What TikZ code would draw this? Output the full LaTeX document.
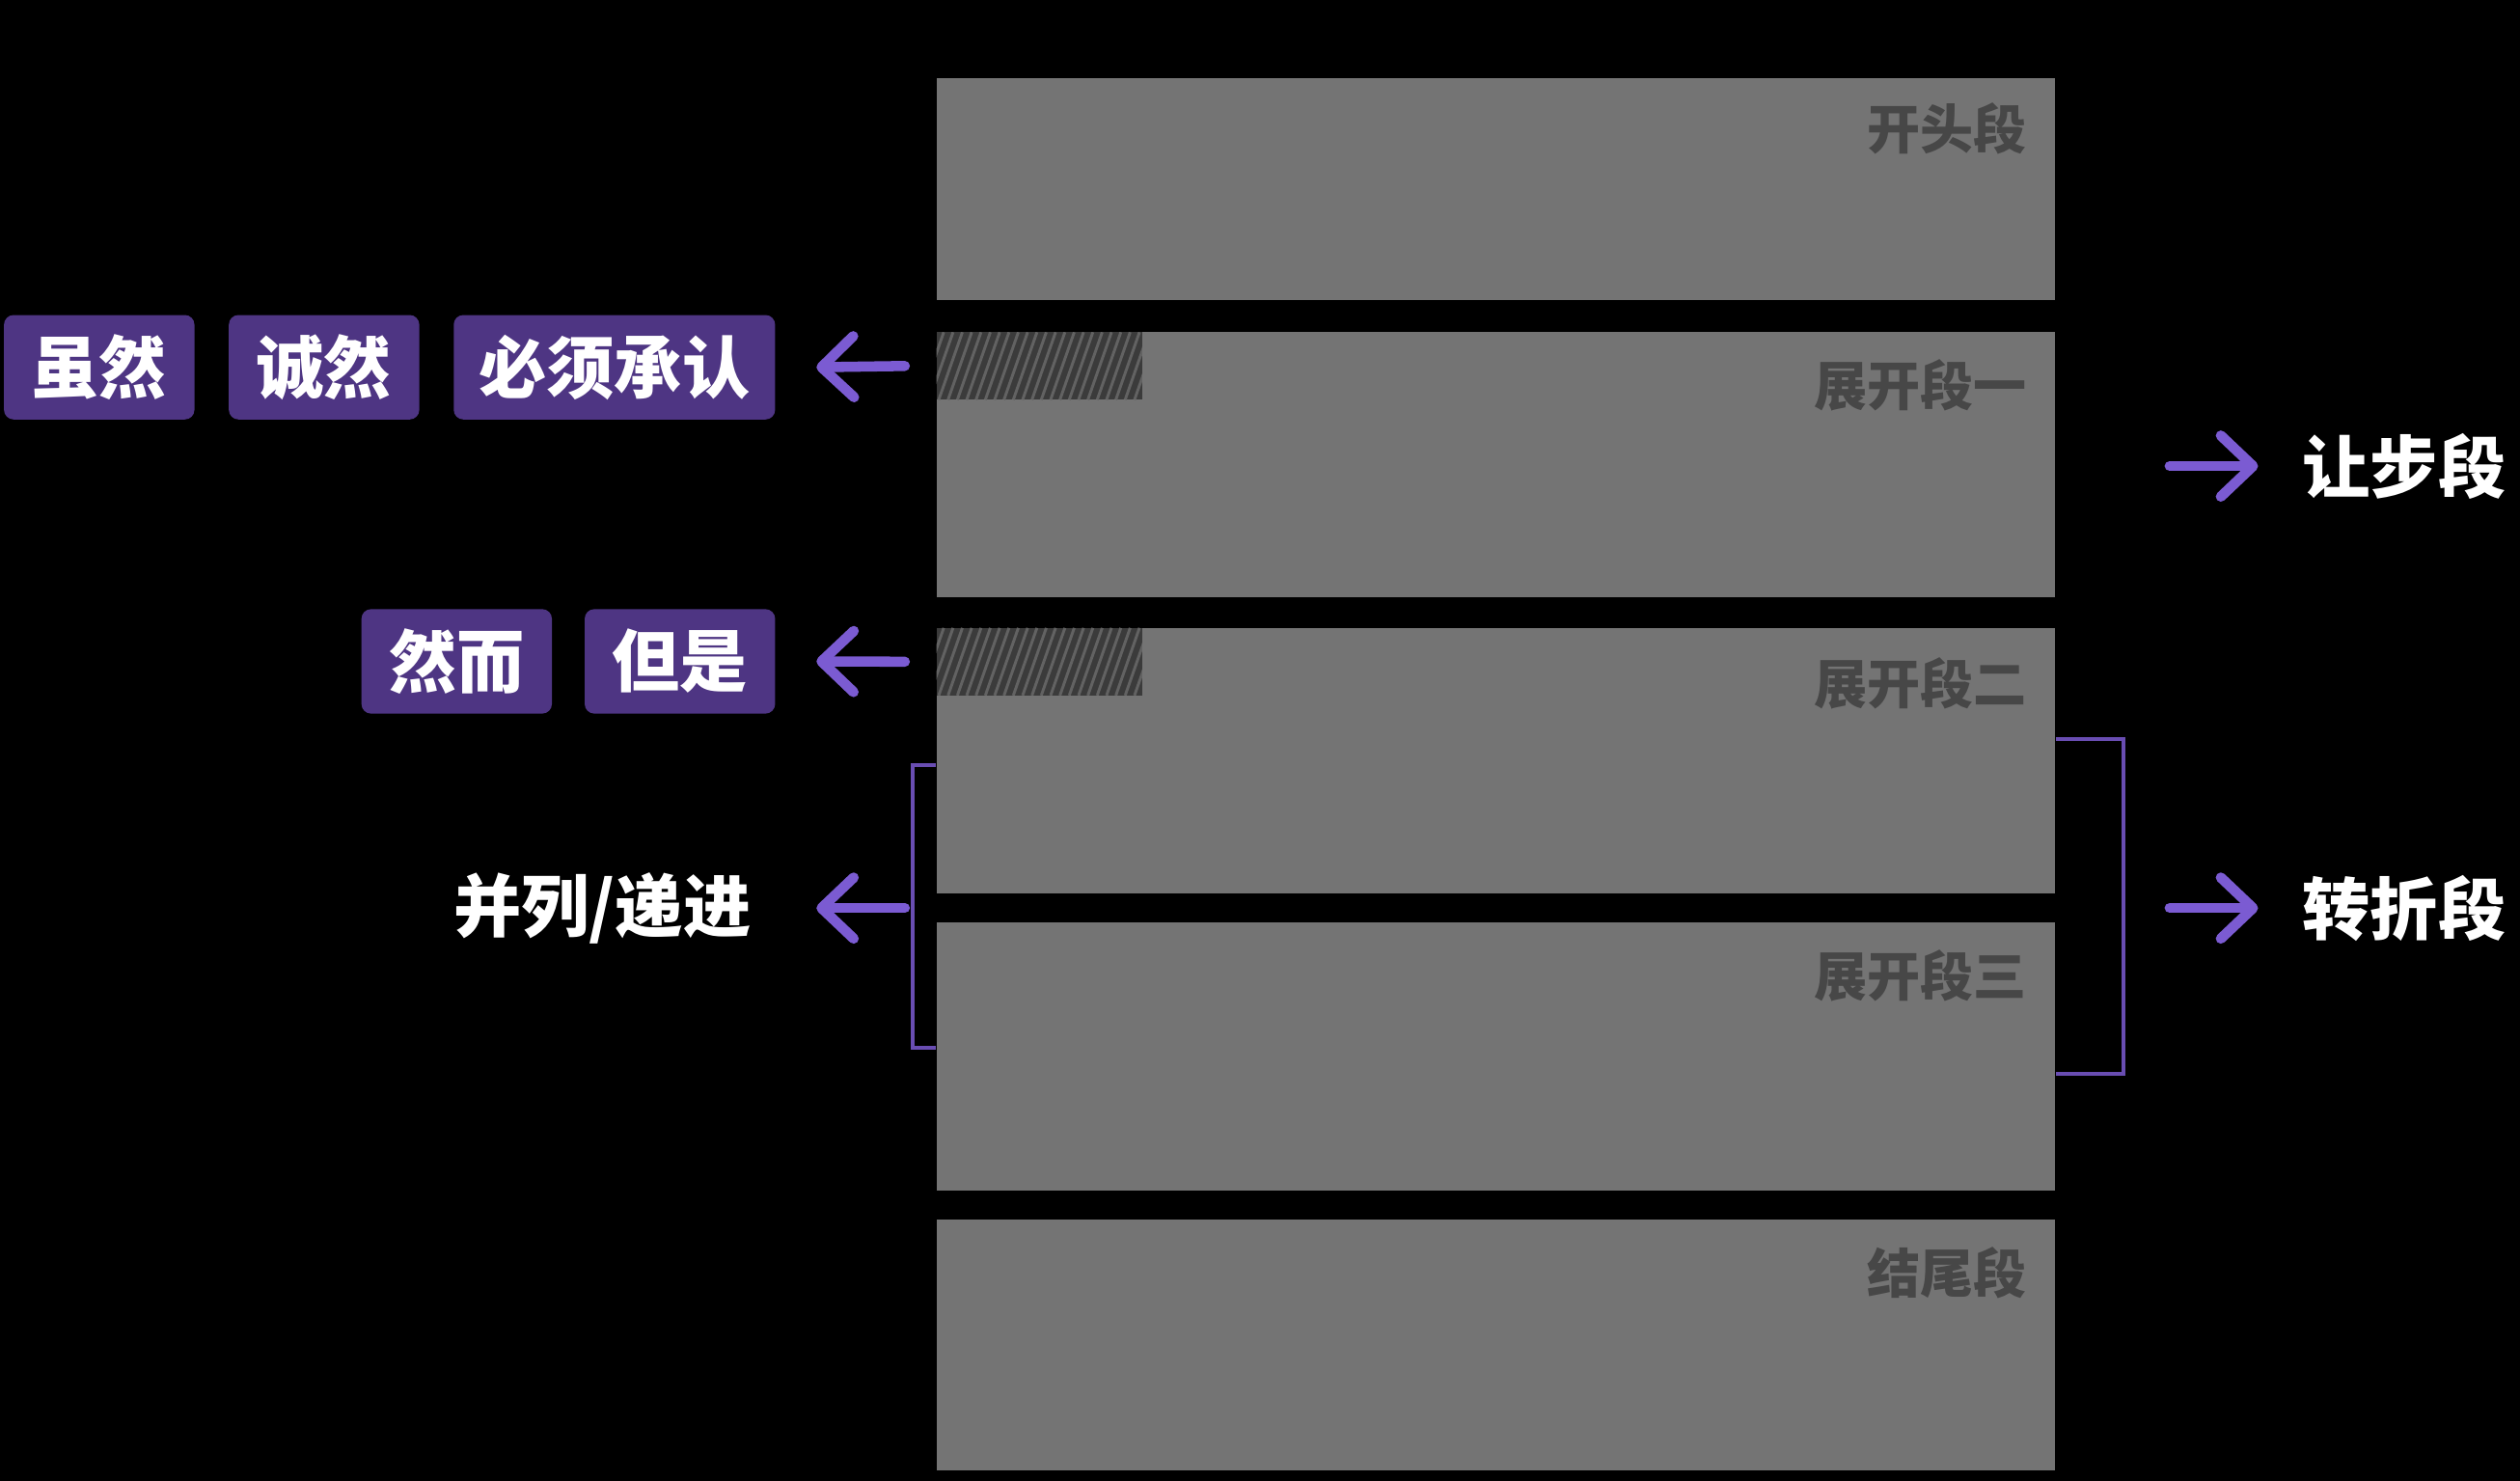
\documentclass[tikz,border=0pt]{standalone}
\usepackage{fontspec}
\newfontfamily\cjk{Noto Sans CJK SC}
\usepackage{tikz}
\usetikzlibrary{positioning, arrows.meta}

\definecolor{segGray}{HTML}{747474}
\definecolor{segText}{HTML}{474747}
\definecolor{tagPurple}{HTML}{4E3583}
\definecolor{arrPurple}{HTML}{7B5BD2}
\definecolor{hatchDark}{HTML}{3B3B3B}
\definecolor{hatchLine}{HTML}{626262}

\tikzset{
  seg/.style={fill=segGray, inner sep=0pt, anchor=north west, minimum width=6.96cm},
  seglabel/.style={anchor=east, text=segText, font=\cjk\bfseries\fontsize{9.4}{11}\selectfont, inner sep=0pt},
  tag/.style={fill=tagPurple, rounded corners=0.6mm, text=white, inner sep=0pt,
    minimum height=6.5mm, minimum width=1.185cm, font=\cjk\bfseries\fontsize{12}{14}\selectfont},
  side/.style={text=white, inner sep=0pt, font=\cjk\bfseries\fontsize{12}{14}\selectfont},
  arr/.style={draw=arrPurple, line width=1.8pt, line cap=round,
    -{Straight Barb[round, length=2mm, width=3.8mm]}},
  brace/.style={draw=arrPurple!85!black, line width=0.7pt},
  hatch/.style={fill=hatchDark, inner sep=0pt, anchor=north west, minimum width=1.28cm, minimum height=0.42cm,
    path picture={
      \foreach \i in {0,...,28}
        \draw[hatchLine, line width=0.5pt]
          ([xshift=\i*0.58mm-1.6mm]path picture bounding box.south west) -- ++(1.47mm,4.2mm);
    }}
}

\begin{document}
\begin{tikzpicture}[x=1cm, y=-1cm]
\useasboundingbox (0,0) rectangle (15.68,9.21);
\fill[black] (-0.1,-0.1) rectangle (15.78,9.31);

% the five paragraphs
\node[seg, minimum height=1.38cm] (kaitou) at (5.82,0.48) {};
\node[seg, minimum height=1.65cm] (zhan1) at (5.82,2.06) {};
\node[seg, minimum height=1.65cm] (zhan2) at (5.82,3.90) {};
\node[seg, minimum height=1.67cm] (zhan3) at (5.82,5.73) {};
\node[seg, minimum height=1.56cm] (jiewei) at (5.82,7.58) {};

\node[seglabel] (lkaitou) at ([xshift=-1.8mm,yshift=-3.2mm]kaitou.north east) {开头段};
\node[seglabel] (lzhan1) at ([xshift=-1.8mm,yshift=-3.4mm]zhan1.north east) {展开段一};
\node[seglabel] (lzhan2) at ([xshift=-1.8mm,yshift=-3.5mm]zhan2.north east) {展开段二};
\node[seglabel] (lzhan3) at ([xshift=-1.8mm,yshift=-3.4mm]zhan3.north east) {展开段三};
\node[seglabel] (ljiewei) at ([xshift=-1.8mm,yshift=-3.4mm]jiewei.north east) {结尾段};

% hatched openings
\node[hatch] (hatchA) at (zhan1.north west) {};
\node[hatch] (hatchB) at (zhan2.north west) {};

% connective words
\node[tag, anchor=east, minimum width=2cm] (chengren) at (4.83,2.285) {必须承认};
\node[tag, left=0.2cm of chengren] (chengran) {诚然};
\node[tag, left=0.2cm of chengran] (suiran) {虽然};
\node[tag, anchor=east] (danshi) at (4.83,4.115) {但是};
\node[tag, left=0.19cm of danshi] (raner) {然而};

\coordinate (tA) at ([xshift=-1.9mm]hatchA.west);
\coordinate (tB) at ([xshift=-1.9mm]hatchB.west);
\draw[arr] (tA) -- ([xshift=2.5mm]chengren.east);
\draw[arr] (tB) -- ([xshift=2.5mm]danshi.east);

% parallel / progressive
\coordinate (lbTop) at (5.68,4.76);
\coordinate (lbBot) at (5.68,6.52);
\draw[brace] (lbTop -| zhan2.west) -- (lbTop) -- (lbBot) -- (lbBot -| zhan3.west);
\node[side, anchor=east] (bingLie) at (4.68,5.65) {并列/递进};
\coordinate (tC) at (5.63,5.65);
\draw[arr] (tC) -- ([xshift=4mm]bingLie.east);

% concession and turn
\coordinate (rbTop) at (13.21,4.60);
\coordinate (rbBot) at (13.21,6.68);
\draw[brace] (rbTop -| zhan2.east) -- (rbTop) -- (rbBot) -- (rbBot -| zhan3.east);

\node[side, anchor=west] (rangbu) at (14.32,2.90) {让步段};
\node[side, anchor=west] (zhuanzhe) at (14.32,5.65) {转折段};
\coordinate (sR) at (13.50,2.90);
\coordinate (sZ) at (13.50,5.65);
\draw[arr] (sR) -- ([xshift=-2.7mm]rangbu.west);
\draw[arr] (sZ) -- ([xshift=-2.7mm]zhuanzhe.west);
\end{tikzpicture}
\end{document}
